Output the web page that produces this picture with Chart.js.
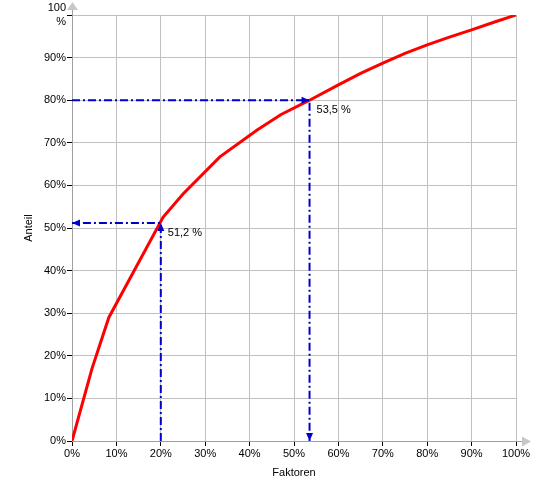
<!DOCTYPE html>
<html>
<head>
<meta charset="utf-8">
<script src="https://cdn.jsdelivr.net/npm/chart.js@4"></script>
<style>
  html, body { margin: 0; padding: 0; background: #fff; }
  #wrap { width: 550px; height: 500px; }
</style>
</head>
<body>
<div id="wrap"><canvas id="chart" width="550" height="500"></canvas></div>
<script>
// Pareto curve: share of factors (x) vs. cumulated share (y), in %
const faktoren = [0, 4.5, 8.3, 20.5, 25, 33.3, 41.7, 47, 53.5, 60, 65, 70, 75, 80, 85, 90, 95, 100];
const anteil = [0, 17, 29, 52.5, 58, 66.7, 73, 76.6, 80, 83.6, 86.3, 88.7, 91, 93, 94.8, 96.5, 98.3, 100];

// reference marks: [factor %, share %]
const markFaktor = [20, 53.5];
const markAnteil = [51.2, 80];
const markLabels = ['51,2 %', '53,5 %'];

const tickValues = [0, 10, 20, 30, 40, 50, 60, 70, 80, 90, 100];

const FONT = 'Liberation Sans, Arial, sans-serif';
const BLUE = '#0000cc';

const curve = faktoren.map((f, i) => ({ x: f, y: anteil[i] }));
// first mark: up from the x axis, then left to the y axis
const mark1 = [
  { x: markFaktor[0], y: 0 },
  { x: markFaktor[0], y: markAnteil[0] },
  { x: 0, y: markAnteil[0] }
];
// second mark: right from the y axis, then down to the x axis
const mark2 = [
  { x: 0, y: markAnteil[1] },
  { x: markFaktor[1], y: markAnteil[1] },
  { x: markFaktor[1], y: 0 }
];

function arrowHead(ctx, x0, y0, x1, y1, len, half, color) {
  const a = Math.atan2(y1 - y0, x1 - x0);
  ctx.save();
  ctx.translate(x1, y1);
  ctx.rotate(a);
  ctx.beginPath();
  ctx.moveTo(0, 0);
  ctx.lineTo(-len, -half);
  ctx.lineTo(-len, half);
  ctx.closePath();
  ctx.fillStyle = color;
  ctx.fill();
  ctx.restore();
}

const extras = {
  id: 'extras',
  beforeDatasetsDraw(chart) {
    const { ctx, chartArea: ca } = chart;
    // axis extensions with grey arrows
    ctx.save();
    ctx.strokeStyle = '#a0a0a0';
    ctx.lineWidth = 1;
    ctx.beginPath();
    ctx.moveTo(ca.left + 0.5, ca.top);
    ctx.lineTo(ca.left + 0.5, ca.top - 6);
    ctx.moveTo(ca.right, ca.bottom + 0.5);
    ctx.lineTo(ca.right + 6, ca.bottom + 0.5);
    ctx.stroke();
    ctx.restore();
    arrowHead(ctx, ca.left + 0.5, ca.top, ca.left + 0.5, ca.top - 13, 8, 5.5, '#c8c8c8');
    arrowHead(ctx, ca.right, ca.bottom + 0.5, ca.right + 15, ca.bottom + 0.5, 9, 5, '#c8c8c8');
  },
  afterDatasetsDraw(chart) {
    const { ctx } = chart;
    const xs = chart.scales.x, ys = chart.scales.y;
    [mark1, mark2].forEach(pts => {
      for (let i = 1; i < pts.length; i++) {
        arrowHead(ctx,
          xs.getPixelForValue(pts[i - 1].x), ys.getPixelForValue(pts[i - 1].y),
          xs.getPixelForValue(pts[i].x), ys.getPixelForValue(pts[i].y),
          8, 3.5, BLUE);
      }
    });
    ctx.save();
    ctx.font = '11px ' + FONT;
    ctx.fillStyle = '#000';
    ctx.textAlign = 'left';
    ctx.textBaseline = 'middle';
    markLabels.forEach((t, i) => {
      ctx.fillText(t, xs.getPixelForValue(markFaktor[i]) + 7, ys.getPixelForValue(markAnteil[i]) + 10);
    });
    ctx.restore();
  }
};

const dashLine = {
  type: 'line',
  borderColor: BLUE,
  borderWidth: 2,
  borderDash: [8, 3, 2, 3],
  pointRadius: 0,
  fill: false,
  clip: false
};

new Chart(document.getElementById('chart'), {
  type: 'scatter',
  data: {
    datasets: [
      { ...dashLine, data: mark1 },
      { ...dashLine, data: mark2 },
      {
        type: 'line',
        data: curve,
        borderColor: '#ff0000',
        borderWidth: 3,
        pointRadius: 0,
        fill: false,
        tension: 0
      }
    ]
  },
  options: {
    responsive: false,
    animation: false,
    layout: { padding: { top: 15, right: 34, left: 0, bottom: 0 } },
    plugins: { legend: { display: false }, tooltip: { enabled: false } },
    scales: {
      x: {
        type: 'linear',
        min: 0,
        max: 100,
        afterFit: s => { s.height = 59; },
        afterBuildTicks: s => { s.ticks = tickValues.map(v => ({ value: v })); },
        grid: { color: '#c0c0c0', tickLength: 5, tickColor: '#000' },
        border: { color: '#a0a0a0' },
        ticks: {
          padding: 1,
          maxRotation: 0,
          color: '#000',
          font: { family: FONT, size: 11 },
          callback: v => v + '%'
        },
        title: {
          display: true,
          text: 'Faktoren',
          color: '#000',
          font: { family: FONT, size: 11 },
          padding: { top: 4, bottom: 20 }
        }
      },
      y: {
        type: 'linear',
        min: 0,
        max: 100,
        afterFit: s => { s.width = 72; },
        afterBuildTicks: s => { s.ticks = tickValues.map(v => ({ value: v })); },
        grid: { color: '#c0c0c0', tickLength: 5, tickColor: '#000' },
        border: { color: '#a0a0a0' },
        ticks: {
          padding: 1,
          color: '#000',
          font: { family: FONT, size: 11 },
          callback: v => v === 100 ? ['100', '%'] : v + '%'
        },
        title: {
          display: true,
          text: 'Anteil',
          color: '#000',
          font: { family: FONT, size: 11 },
          padding: { top: 22, bottom: 4 }
        }
      }
    }
  },
  plugins: [extras]
});
</script>
</body>
</html>
